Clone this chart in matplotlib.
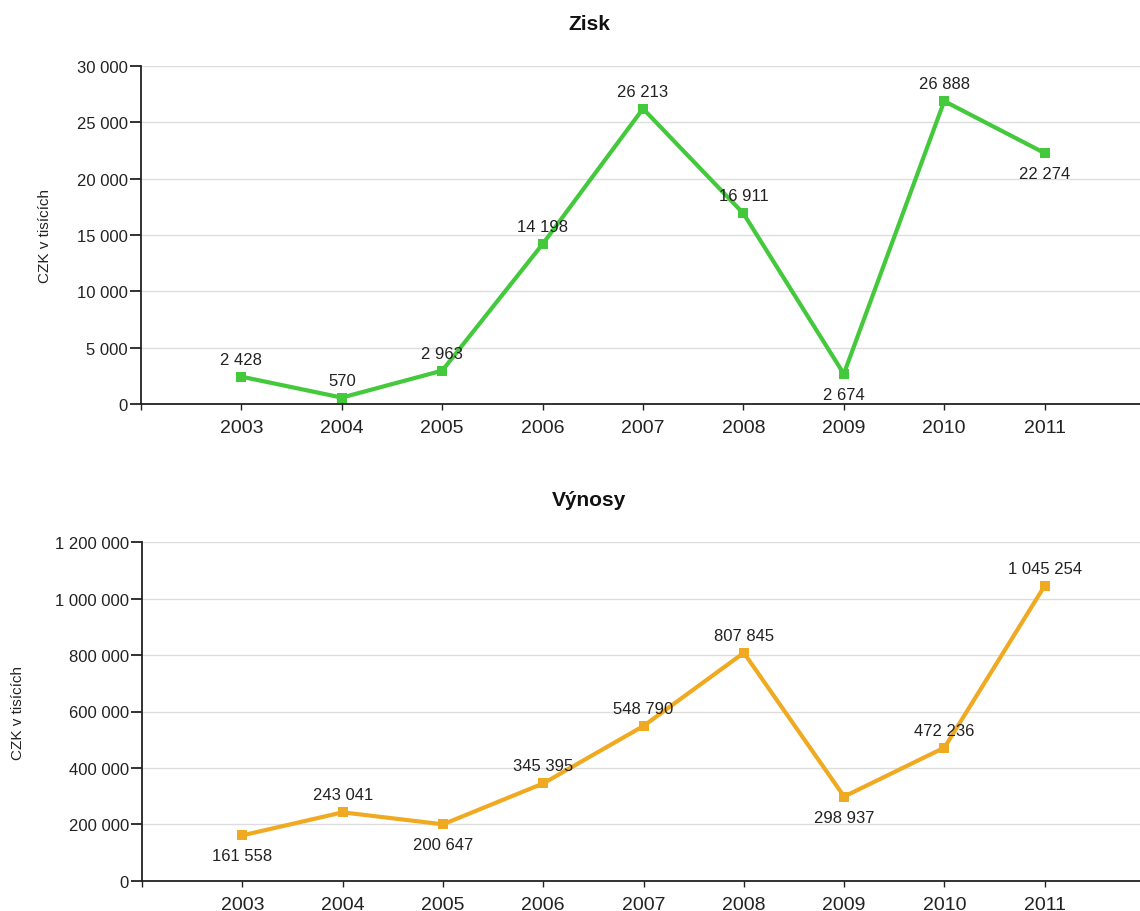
import matplotlib
matplotlib.use("Agg")
import matplotlib.pyplot as plt
from matplotlib.ticker import FuncFormatter

plt.rcParams['font.family'] = ['Liberation Sans', 'DejaVu Sans']

# data
years = [2003, 2004, 2005, 2006, 2007, 2008, 2009, 2010, 2011]
zisk = [2428, 570, 2963, 14198, 26213, 16911, 2674, 26888, 22274]
vynosy = [161558, 243041, 200647, 345395, 548790, 807845, 298937, 472236, 1045254]
# label above (+1) or below (-1) the point
zisk_pos = [1, 1, 1, 1, 1, 1, -1, 1, -1]
vynosy_pos = [-1, 1, -1, 1, 1, 1, -1, 1, 1]


def fmt(v):
    return f"{int(v):,}".replace(",", " ")


def draw(ax, vals, pos, color, ymax, ystep, title, title_y, ylab_x):
    ax.plot(years, vals, color=color, linewidth=3, marker='s', markersize=7,
            markeredgewidth=0, zorder=3)
    for x, v, p in zip(years, vals, pos):
        dy = 13 if p > 0 else -25
        ax.annotate(fmt(v), (x, v), xytext=(0, dy), textcoords='offset pixels',
                    ha='center', va='baseline', fontsize=12, color='#222222', zorder=4)
    ax.set_xlim(2002, 2011.95)
    ax.set_ylim(0, ymax)
    ax.set_yticks(range(0, ymax + 1, ystep))
    ax.yaxis.set_major_formatter(FuncFormatter(lambda v, p: fmt(v)))
    ax.set_xticks(years)
    ax.set_xticks([2002], minor=True)
    ax.tick_params(axis='x', which='both', length=4, width=1, labelsize=14, pad=6.5,
                   color='#222222', labelcolor='#222222')
    ax.tick_params(axis='y', length=8, width=1.3, labelsize=12, pad=1.5,
                   color='#222222', labelcolor='#222222')
    ax.grid(axis='y', color='#dddddd', linewidth=1)
    ax.set_axisbelow(True)
    for s in ['top', 'right']:
        ax.spines[s].set_visible(False)
    for s in ['left', 'bottom']:
        ax.spines[s].set_linewidth(1.3)
        ax.spines[s].set_color('#222222')
    fig.text(589 / 1140, title_y, title, ha='center', va='baseline', fontsize=15,
             fontweight='bold', color='#111111')
    bb = ax.get_position()
    fig.text(ylab_x, (bb.y0 + bb.y1) / 2, "CZK v tisících", rotation=90,
             ha='center', va='center', fontsize=11, color='#222222')


fig = plt.figure(figsize=(11.4, 9.12), dpi=100)
ax1 = fig.add_axes([0.1237, 0.5559, 0.8763, 0.3706])
ax2 = fig.add_axes([0.1246, 0.0329, 0.8754, 0.3717])

draw(ax1, zisk, zisk_pos, '#44c83c', 30000, 5000, "Zisk", 1 - 30 / 912, 45 / 1140)
draw(ax2, vynosy, vynosy_pos, '#f0aa22', 1200000, 200000, "Výnosy", 1 - 506 / 912, 18 / 1140)

fig.savefig("out.png", dpi=100)
